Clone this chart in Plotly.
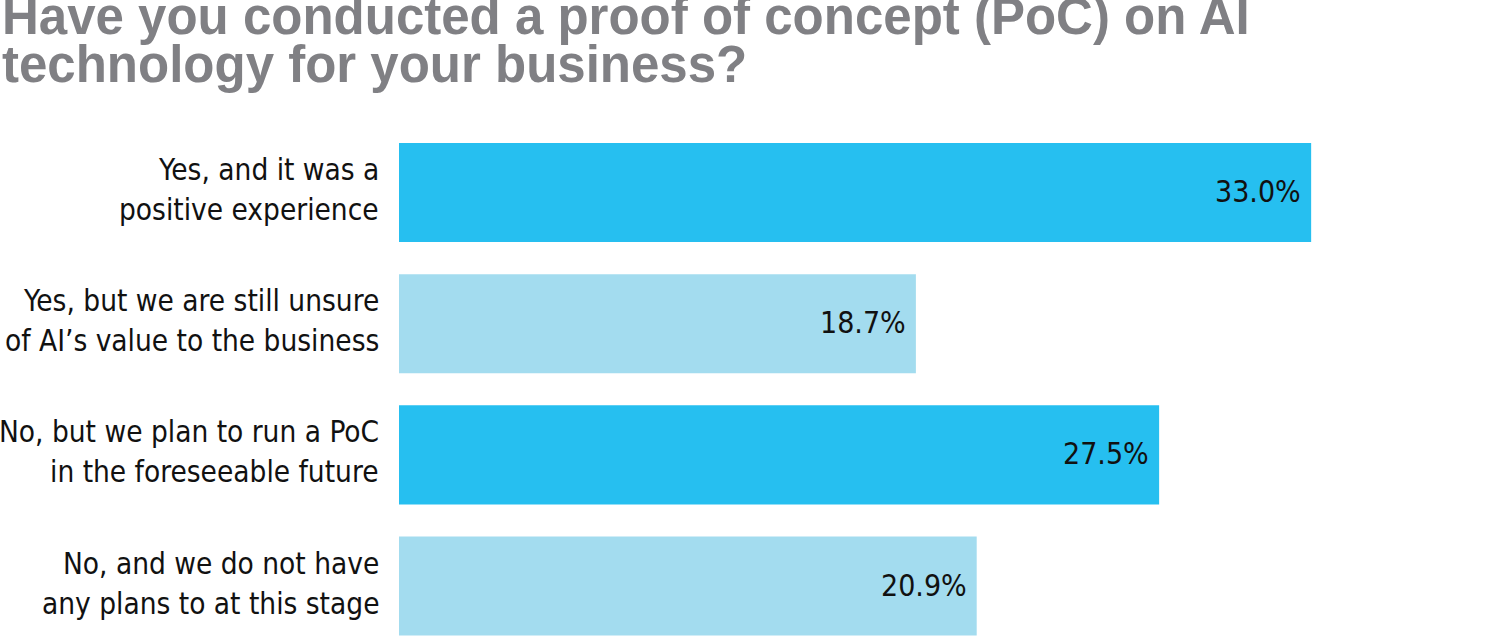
import plotly.graph_objects as go

categories = [
    ["Yes, and it was a", "positive experience"],
    ["Yes, but we are still unsure", "of AI\u2019s value to the business"],
    ["No, but we plan to run a PoC", "in the foreseeable future"],
    ["No, and we do not have", "any plans to at this stage"],
]
values = [33.0, 18.7, 27.5, 20.9]
value_labels = ["33.0%", "18.7%", "27.5%", "20.9%"]
bar_colors = ["#26BFF0", "#A3DCEF", "#26BFF0", "#A3DCEF"]
title_lines = ["Have you conducted a proof of concept (PoC) on AI",
               "technology for your business?"]

W, H = 1500, 636
ML, MR, MT, MB = 399, 23, 127, 0
PW, PH = W - ML - MR, H - MT - MB

ypos = list(range(len(values)))

fig = go.Figure(go.Bar(
    x=values, y=ypos, orientation="h",
    marker=dict(color=bar_colors, line=dict(width=0)),
    width=0.755, hoverinfo="skip",
))

label_font = "DejaVu Sans Condensed, Liberation Sans, sans-serif"
anns = []
for i, (lines, v, t) in enumerate(zip(categories, values, value_labels)):
    for line, ys in zip(lines, [22.5, -17.5]):
        anns.append(dict(x=0, xref="paper", y=i, yref="y", text=line, showarrow=False,
                         xanchor="right", yanchor="middle", align="right",
                         xshift=-18, yshift=ys,
                         font=dict(family=label_font, size=29.5, color="#111111")))
    anns.append(dict(x=v, xref="x", y=i, yref="y", text=t, showarrow=False,
                     xanchor="right", yanchor="middle", xshift=-8, yshift=1,
                     font=dict(family=label_font, size=30, color="#111111")))

def px_to_paper_x(px):
    return (px - ML) / PW

def px_to_paper_y(py):
    return (H - MB - py) / PH

title_font = "Liberation Sans, Arial, sans-serif"
for line, cy in zip(title_lines, [17, 65]):
    anns.append(dict(x=px_to_paper_x(0), xref="paper", y=px_to_paper_y(cy), yref="paper",
                     text=line, showarrow=False, xanchor="left", yanchor="middle",
                     font=dict(family=title_font, size=51, color="#808084", weight="bold")))

fig.update_layout(
    width=W, height=H,
    margin=dict(l=ML, r=MR, t=MT, b=MB, pad=0),
    paper_bgcolor="white", plot_bgcolor="white",
    showlegend=False,
    xaxis=dict(range=[0, 39], visible=False, fixedrange=True),
    yaxis=dict(range=[3.381, -0.5], visible=False, fixedrange=True),
    annotations=anns,
)

fig.write_html("out.html")
